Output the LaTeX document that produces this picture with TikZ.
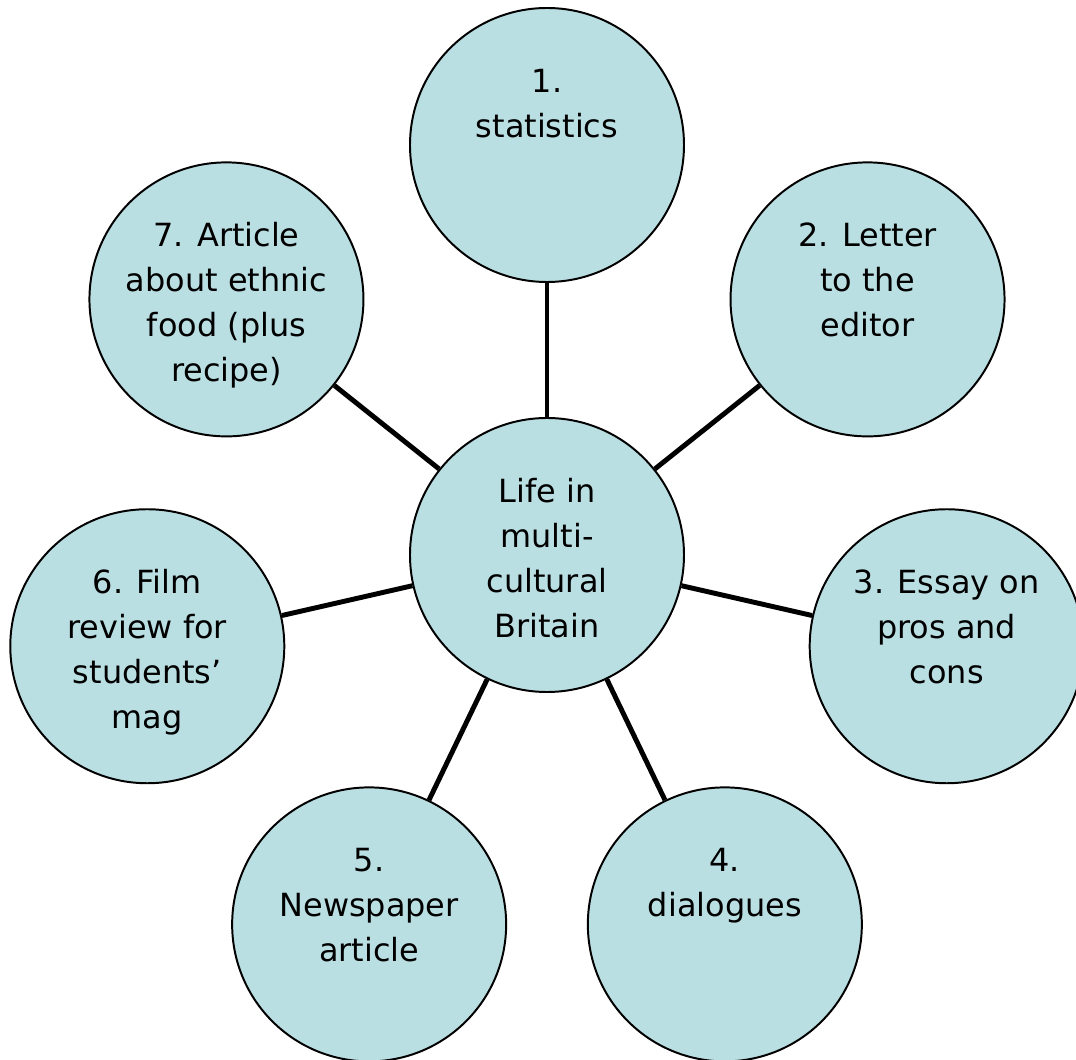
\documentclass[tikz,border=0pt]{standalone}
\usepackage{fontspec}
\setmainfont{DejaVu Sans}
\usetikzlibrary{positioning}
\definecolor{bubblefill}{RGB}{186,223,227}
\tikzset{
	bubble/.style={circle, draw=black, line width=1.4pt, fill=bubblefill, minimum size=6.85cm, inner sep=0pt},
	bubbletext/.style={align=center, inner sep=0pt, font=\fontsize{22.7}{32}\selectfont},
	link/.style={line width=3.5pt, draw=black}
}

\begin{document}
\begin{tikzpicture}
			%%%%% START %%%%%
			
			\useasboundingbox (-13.675, -12.625) rectangle (13.225, 13.875);
			
			\node[bubble] (hub) at (0, 0) {};
			\node[bubble] (stats) at (90:10.25) {};
			\node[bubble] (letter) at (38.57:10.25) {};
			\node[bubble] (essay) at (-12.86:10.25) {};
			\node[bubble] (dialog) at (-64.29:10.25) {};
			\node[bubble] (news) at (-115.71:10.25) {};
			\node[bubble] (film) at (-167.14:10.25) {};
			\node[bubble] (food) at (141.43:10.25) {};
			
			\draw[link] (hub) -- (stats);
			\draw[link] (hub) -- (letter);
			\draw[link] (hub) -- (essay);
			\draw[link] (hub) -- (dialog);
			\draw[link] (hub) -- (news);
			\draw[link] (hub) -- (film);
			\draw[link] (hub) -- (food);
			
			\node[bubbletext, below=1.335cm of hub.north] (hubtext) {\strut Life in\\\strut multi-\\\strut cultural\\\strut Britain};
			\node[bubbletext, below=1.335cm of stats.north] (statstext) {\strut 1.\\\strut statistics};
			\node[bubbletext, below=1.335cm of letter.north] (lettertext) {\strut 2. Letter\\\strut to the\\\strut editor};
			\node[bubbletext, below=1.335cm of essay.north] (essaytext) {\strut 3. Essay on\\\strut pros and\\\strut cons};
			\node[bubbletext, below=1.335cm of dialog.north] (dialogtext) {\strut 4.\\\strut dialogues};
			\node[bubbletext, below=1.335cm of news.north] (newstext) {\strut 5.\\\strut Newspaper\\\strut article};
			\node[bubbletext, below=1.335cm of film.north] (filmtext) {\strut 6. Film\\\strut review for\\\strut students’\\\strut mag};
			\node[bubbletext, below=1.335cm of food.north] (foodtext) {\strut 7. Article\\\strut about ethnic\\\strut food (plus\\\strut recipe)};
			
			%%%%% END %%%%%
\end{tikzpicture}
\end{document}
